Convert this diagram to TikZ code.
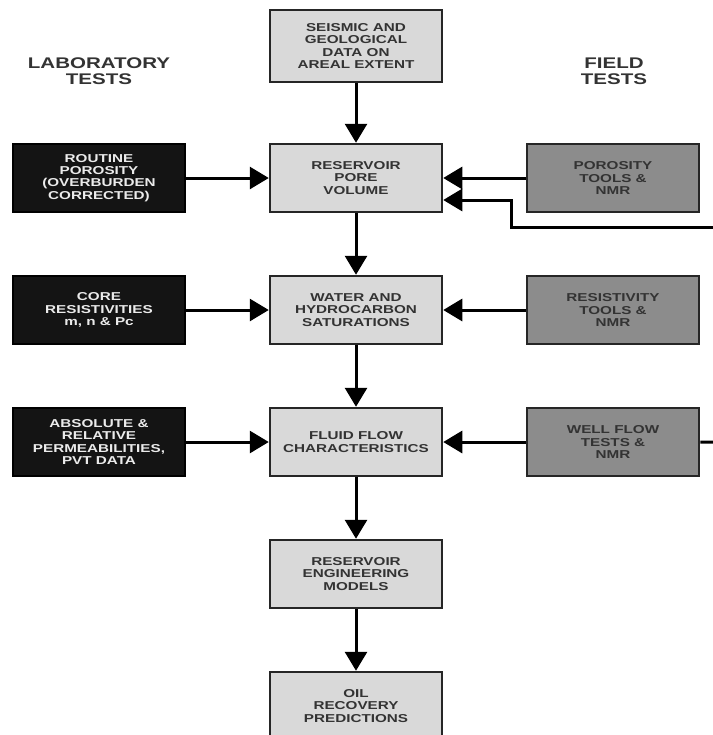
\documentclass[tikz,border=0pt]{standalone}
\usepackage{fontspec}
\newfontfamily\chartfont[FakeStretch=1.33]{Liberation Sans}
\usetikzlibrary{arrows.meta}
\begin{document}
\begin{tikzpicture}[x=1bp,y=-1bp,->,>={Triangle[length=19bp,width=22bp]},line width=3bp,
      node distance=132bp,
      every node/.style={font=\chartfont\bfseries\fontsize{11.5}{12.2}\selectfont,align=center},
      box/.style={rectangle,draw=black!85,line width=2.5bp,minimum width=172bp,minimum height=68bp,inner sep=0pt},
      main box/.style={box,fill=black!15,text=black!80},
      lab box/.style={box,fill=black!92,draw=black,text=black!8},
      field box/.style={box,fill=black!45,text=black!80},
      heading/.style={font=\chartfont\bfseries\fontsize{15.5}{16}\selectfont,text=black!80}]
 \useasboundingbox (0,0) rectangle (713,735);
 \node[heading] (lab) at (99,71) {LABORATORY\\TESTS};
 \node[heading] (field) at (614,71) {FIELD\\TESTS};

 \node[main box, minimum height=72bp] (seismic) at (356,46) {SEISMIC AND\\GEOLOGICAL\\DATA ON\\AREAL EXTENT};
 \node[main box] (pore) [below of=seismic] {RESERVOIR\\PORE\\VOLUME};
 \node[main box] (water) [below of=pore] {WATER AND\\HYDROCARBON\\SATURATIONS};
 \node[main box] (fluid) [below of=water] {FLUID FLOW\\CHARACTERISTICS};
 \node[main box] (models) [below of=fluid] {RESERVOIR\\ENGINEERING\\MODELS};
 \node[main box] (oil) [below of=models] {OIL\\RECOVERY\\PREDICTIONS};

 \node[lab box] (routine) [left of=pore, node distance=257bp] {ROUTINE\\POROSITY\\(OVERBURDEN\\CORRECTED)};
 \node[lab box] (core) [left of=water, node distance=257bp] {CORE\\RESISTIVITIES\\m, n \& Pc};
 \node[lab box] (perm) [left of=fluid, node distance=257bp] {ABSOLUTE \&\\RELATIVE\\PERMEABILITIES,\\PVT DATA};

 \node[field box] (porosity) [right of=pore, node distance=257bp] {POROSITY\\TOOLS \&\\NMR};
 \node[field box] (resist) [right of=water, node distance=257bp] {RESISTIVITY\\TOOLS \&\\NMR};
 \node[field box] (wellflow) [right of=fluid, node distance=257bp] {WELL FLOW\\TESTS \&\\NMR};

 \coordinate (feed) at (713,227);
 \coordinate (turn) at (511,227);
 \coordinate (edge3) at (713,442);

\path
 (seismic) edge (pore)
 (pore) edge (water)
 (water) edge (fluid)
 (fluid) edge (models)
 (models) edge (oil)
 (routine) edge (pore)
 (core) edge (water)
 (perm) edge (fluid)
 (porosity) edge (pore)
 (resist) edge (water)
 (wellflow) edge (fluid)
 (wellflow) edge [-] (edge3)
 ;
\draw (feed) -- (turn) |- ([yshift=-22bp]pore.east);
\end{tikzpicture}
\end{document}
